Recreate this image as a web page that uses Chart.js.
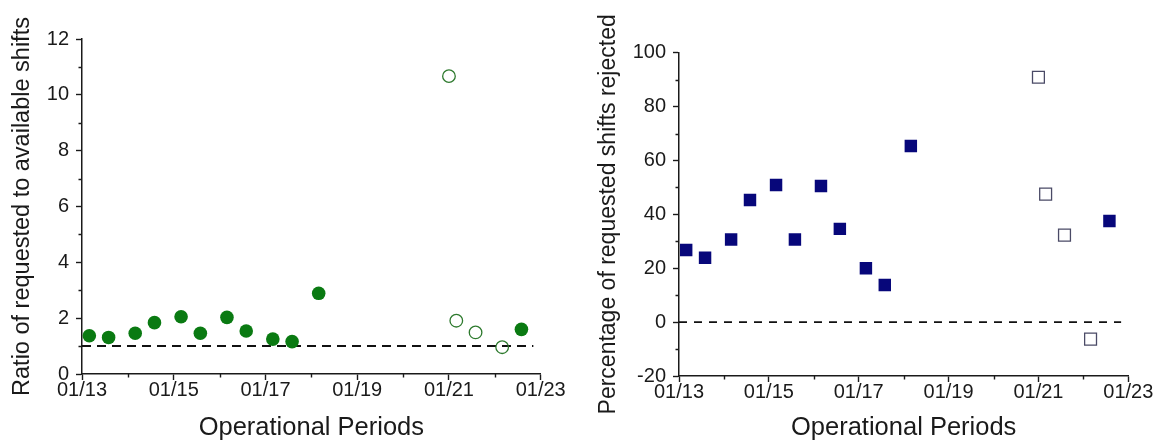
<!DOCTYPE html>
<html>
<head>
<meta charset="utf-8">
<title>Shift requests by operational period</title>
<script src="https://cdn.jsdelivr.net/npm/chart.js@4.4.1/dist/chart.umd.min.js"></script>
<style>
  html, body { margin: 0; padding: 0; background: #ffffff; }
  #wrap { position: relative; width: 1156px; height: 441px; overflow: hidden; }
  #wrap canvas { position: absolute; top: 0; }
  #ratioChart { left: 0; }
  #rejectChart { left: 578px; }
</style>
</head>
<body>
<div id="wrap">
  <canvas id="ratioChart" width="578" height="441"></canvas>
  <canvas id="rejectChart" width="578" height="441"></canvas>
</div>
<script>
// Operational periods (day of January, fractional = period start within the day)
const periodsFilled = [13.16, 13.58, 14.16, 14.58, 15.16, 15.58, 16.16, 16.58, 17.16, 17.58, 18.16, 22.58];
const periodsOpen   = [21.0, 21.16, 21.58, 22.16];

// Ratio of requested to available shifts
const ratioFilled = [1.37, 1.31, 1.46, 1.84, 2.05, 1.46, 2.03, 1.54, 1.25, 1.16, 2.89, 1.60];
const ratioOpen   = [10.67, 1.91, 1.49, 0.96];

// Percentage of requested shifts rejected
const rejectFilled = [26.8, 23.9, 30.7, 45.3, 50.9, 30.7, 50.5, 34.6, 20.0, 13.8, 65.4, 37.5];
const rejectOpen   = [90.9, 47.5, 32.3, -6.3];

// Reference lines
const refLineDays   = [13, 22.84];
const ratioRefLine  = [1, 1];
const rejectRefLine = [0, 0];

// Axis ticks and labels
const dayTicks    = [13, 15, 17, 19, 21, 23];
const dayLabels   = ['01/13', '01/15', '01/17', '01/19', '01/21', '01/23'];
const ratioTicks  = [0, 2, 4, 6, 8, 10, 12];
const rejectTicks = [-20, 0, 20, 40, 60, 80, 100];

const FONT = '"Liberation Sans", Arial, Helvetica, sans-serif';
const INK = '#1a1a1a';

function points(xs, ys) {
  return xs.map((x, i) => ({ x: x, y: ys[i] }));
}

function midpoints(arr) {
  const out = [];
  for (let i = 0; i < arr.length - 1; i++) out.push((arr[i] + arr[i + 1]) / 2);
  return out;
}

// Short unlabelled ticks halfway between the labelled ones
const minorTicks = {
  id: 'minorTicks',
  afterDraw(chart, args, opts) {
    const ctx = chart.ctx;
    const xs = chart.scales.x;
    const ys = chart.scales.y;
    ctx.save();
    ctx.strokeStyle = INK;
    ctx.lineWidth = 1.4;
    ctx.beginPath();
    midpoints(opts.xMajor).forEach(v => {
      const p = Math.round(xs.getPixelForValue(v)) + 0.5;
      ctx.moveTo(p, xs.top);
      ctx.lineTo(p, xs.top + opts.len);
    });
    midpoints(opts.yMajor).forEach(v => {
      const p = Math.round(ys.getPixelForValue(v)) + 0.5;
      ctx.moveTo(ys.right, p);
      ctx.lineTo(ys.right - opts.len, p);
    });
    ctx.stroke();
    ctx.restore();
  }
};

function buildChart(canvasId, c) {
  return new Chart(document.getElementById(canvasId), {
    type: 'scatter',
    data: {
      datasets: [
        {
          label: 'filled',
          data: points(periodsFilled, c.filled),
          pointStyle: c.style,
          pointRadius: c.radius,
          backgroundColor: c.fill,
          borderColor: c.fill,
          borderWidth: 0
        },
        {
          label: 'open',
          data: points(periodsOpen, c.open),
          pointStyle: c.style,
          pointRadius: c.openRadius,
          backgroundColor: 'rgba(255,255,255,0)',
          borderColor: c.openStroke,
          borderWidth: 1.3
        },
        {
          label: 'reference',
          data: points(refLineDays, c.refLine),
          showLine: true,
          borderColor: '#111111',
          borderWidth: c.dashWidth,
          borderDash: c.dash,
          pointRadius: 0,
          fill: false
        }
      ]
    },
    options: {
      responsive: false,
      animation: false,
      events: [],
      layout: { padding: c.padding },
      plugins: {
        legend: { display: false },
        tooltip: { enabled: false },
        minorTicks: { xMajor: dayTicks, yMajor: c.yTicks, len: 3.5 }
      },
      scales: {
        x: {
          type: 'linear',
          min: 13,
          max: 23,
          afterBuildTicks: s => { s.ticks = dayTicks.map(v => ({ value: v })); },
          afterFit: s => { s.height = c.xHeight; },
          border: { display: true, color: INK, width: 1.5 },
          grid: { display: true, drawOnChartArea: false, drawTicks: true, tickLength: 6, tickColor: INK, tickWidth: 1.4 },
          ticks: {
            padding: 0,
            color: INK,
            maxRotation: 0,
            autoSkip: false,
            font: { family: FONT, size: 20, lineHeight: 1 },
            callback: v => { const i = dayTicks.indexOf(v); return i >= 0 ? dayLabels[i] : ''; }
          },
          title: {
            display: true,
            text: 'Operational Periods',
            color: INK,
            padding: { top: 0, bottom: 0 },
            font: { family: FONT, size: 25.5, lineHeight: 1 }
          }
        },
        y: {
          type: 'linear',
          min: c.yMin,
          max: c.yMax,
          afterBuildTicks: s => { s.ticks = c.yTicks.map(v => ({ value: v })); },
          afterFit: s => { s.width = c.yWidth; },
          border: { display: true, color: INK, width: 1.5 },
          grid: { display: true, drawOnChartArea: false, drawTicks: true, tickLength: 6, tickColor: INK, tickWidth: 1.4 },
          ticks: {
            padding: 7,
            color: INK,
            autoSkip: false,
            font: { family: FONT, size: 20, lineHeight: 1 },
            callback: v => String(v)
          },
          title: {
            display: true,
            text: c.yTitle,
            color: INK,
            padding: { top: c.yTitlePad, bottom: 0 },
            font: { family: FONT, size: c.yTitleSize, lineHeight: 1.2 }
          }
        }
      }
    },
    plugins: [minorTicks]
  });
}

buildChart('ratioChart', {
  filled: ratioFilled,
  open: ratioOpen,
  refLine: ratioRefLine,
  style: 'circle',
  radius: 6.8,
  openRadius: 6.3,
  fill: '#0a7a12',
  openStroke: '#2e7a2e',
  dash: [9, 6],
  dashWidth: 2,
  yMin: 0,
  yMax: 12,
  yTicks: ratioTicks,
  yTitle: 'Ratio of requested to available shifts',
  yTitleSize: 23.5,
  yTitlePad: 8,
  yWidth: 82,
  xHeight: 67,
  padding: { left: 0, right: 37.3, top: 39, bottom: 0 }
});

buildChart('rejectChart', {
  filled: rejectFilled,
  open: rejectOpen,
  refLine: rejectRefLine,
  style: 'rect',
  radius: 8.8,
  openRadius: 8.4,
  fill: '#07077a',
  openStroke: '#4a4a66',
  dash: [8, 7],
  dashWidth: 1.6,
  yMin: -20,
  yMax: 100,
  yTicks: rejectTicks,
  yTitle: 'Percentage of requested shifts rejected',
  yTitleSize: 23,
  yTitlePad: 17,
  yWidth: 101,
  xHeight: 65,
  padding: { left: 0, right: 27.7, top: 52.7, bottom: 0 }
});
</script>
</body>
</html>
